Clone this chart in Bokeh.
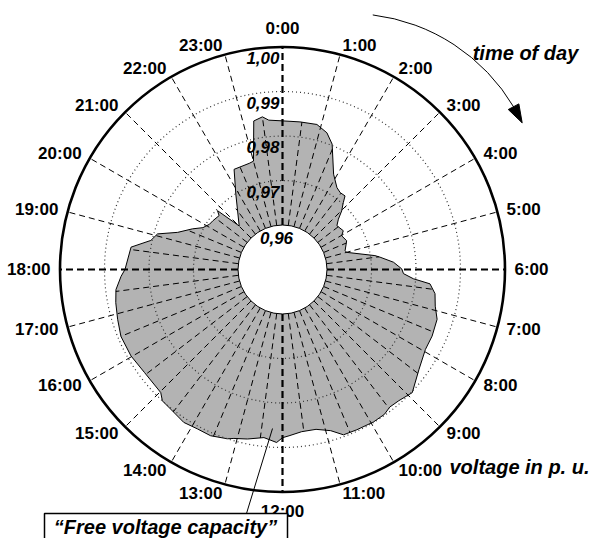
import numpy as np
from bokeh.plotting import figure
from bokeh.models import Range1d
from bokeh.core.properties import value
from bokeh.embed import file_html
from bokeh.resources import INLINE

# ---------------- data ----------------
hours = [0.0, 0.45, 0.89, 1.2, 1.44, 1.88, 2.24, 2.46, 2.69, 2.82, 3.02, 3.2, 3.41,
         3.83, 4.02, 4.39, 4.88, 5.0, 5.43, 5.52, 5.75, 5.98, 6.13, 6.27, 6.37,
         6.6, 6.9, 7.19, 7.6, 7.95, 8.41, 8.9, 9.23, 9.47, 9.66, 9.94, 10.34,
         10.65, 10.89, 11.21, 11.55, 11.85, 12.0, 12.13, 12.42, 12.78, 13.07,
         13.2, 13.56, 13.87, 14.19, 14.58, 14.83, 14.98, 15.55, 16.02, 16.5,
         16.88, 17.25, 17.54, 17.84, 18.0, 18.56, 18.83, 19.06, 19.3, 19.62,
         19.85, 20.12, 20.33, 20.69, 20.81, 21.01, 21.88, 22.28, 22.84, 23.0,
         23.27, 23.5, 23.65]
voltage = [0.9834, 0.9834, 0.9835, 0.9823, 0.9803, 0.9743, 0.9721, 0.9716, 0.9717,
           0.9703, 0.9687, 0.9669, 0.9657, 0.9662, 0.9653, 0.9658, 0.9647, 0.9649,
           0.9710, 0.9721, 0.9750, 0.9768, 0.9772, 0.9795, 0.9833, 0.9847, 0.9853,
           0.9865, 0.9868, 0.9868, 0.9880, 0.9902, 0.9894, 0.9892, 0.9898, 0.9899,
           0.9897, 0.9896, 0.9878, 0.9867, 0.9867, 0.9874, 0.9878, 0.9889, 0.9880,
           0.9889, 0.9895, 0.9900, 0.9907, 0.9906, 0.9909, 0.9902, 0.9900, 0.9889,
           0.9887, 0.9892, 0.9893, 0.9887, 0.9882, 0.9877, 0.9863, 0.9854, 0.9844,
           0.9803, 0.9792, 0.9750, 0.9722, 0.9702, 0.9693, 0.9691, 0.9687, 0.9697,
           0.9638, 0.9699, 0.9750, 0.9750, 0.9752, 0.9840, 0.9846, 0.9837]

ring_values = [0.96, 0.97, 0.98, 0.99, 1.00]
ring_labels = ["0,96", "0,97", "0,98", "0,99", "1,00"]
hour_ticks = list(range(24))
hour_labels = [f"{h}:00" for h in hour_ticks]
box_text = "\u201cFree voltage capacity\u201d"
arrow_text = "time of day"
axis_text = "voltage in p. u."

# ---------------- geometry ----------------
R0 = 0.95          # voltage at the pole of the polar axis
V_IN, V_OUT = 0.96, 1.00
PX = 4450.0        # pixels per p.u.
CX, CY = 282, 269  # pole position in the picture (px)
W, H = 592, 538


def dx(xp):
    return (xp - CX) / PX


def dy(yp):
    return (CY - yp) / PX


def polar(t, v):
    th = np.asarray(t, dtype=float) / 24.0 * 2 * np.pi
    r = np.asarray(v, dtype=float) - R0
    return r * np.sin(th), r * np.cos(th)


p = figure(width=W, height=H, output_backend="svg", toolbar_location=None,
           x_range=Range1d(dx(0), dx(W)), y_range=Range1d(dy(H), dy(0)),
           min_border=0)
p.axis.visible = False
p.grid.visible = False
p.outline_line_color = None
p.background_fill_color = "white"

FONT = value("Liberation Sans")

# shaded area
px_, py_ = polar(hours, voltage)
p.patch(list(px_), list(py_), fill_color="#b3b3b3", line_color="black", line_width=1)

# dotted rings
for v in ring_values[1:-1]:
    p.circle(x=0, y=0, radius=v - R0, fill_color=None, line_color="#333333",
             line_width=1.2, line_dash="1 3")

# half-hour lines inside the shaded area
half = np.arange(0.5, 24, 1.0)
vb = np.interp(half, hours + [24.0], voltage + [voltage[0]])
x0, y0 = polar(half, [V_IN] * len(half))
x1, y1 = polar(half, vb)
p.segment(x0, y0, x1, y1, line_color="black", line_width=1, line_dash="6 4")

# hour lines
minor = [h for h in hour_ticks if h % 6 != 0]
major = [h for h in hour_ticks if h % 6 == 0]
x0, y0 = polar(minor, [V_IN] * len(minor))
x1, y1 = polar(minor, [V_OUT] * len(minor))
p.segment(x0, y0, x1, y1, line_color="black", line_width=1, line_dash="6 4")

# inner circle and outer circle
p.circle(x=0, y=0, radius=V_IN - R0, fill_color="white", line_color="black", line_width=1)
p.circle(x=0, y=0, radius=V_OUT - R0, fill_color=None, line_color="black", line_width=2.6)

x0, y0 = polar(major, [V_IN] * len(major))
x1, y1 = polar(major, [V_OUT] * len(major))
p.segment(x0, y0, x1, y1, line_color="black", line_width=2.2, line_dash="7 4")

# hour labels
LR = R0 + 232 / PX
groups = {
    ("center", "bottom"): [0],
    ("center", "top"): [12],
    ("left", "middle"): list(range(1, 12)),
    ("right", "middle"): list(range(13, 24)),
}
for (al, bl), hs in groups.items():
    lx, ly = polar(hs, [LR] * len(hs))
    p.text(x=list(lx), y=list(ly), text=[hour_labels[h] for h in hs],
           text_font=FONT, text_font_style="bold", text_font_size="17px",
           text_align=al, text_baseline=bl, text_color="black")

# ring labels
p.text(x=[dx(279)] * 4, y=[v - R0 - 5 / PX for v in ring_values[1:]],
       text=ring_labels[1:], text_font=FONT, text_font_style="bold italic",
       text_font_size="17px", text_align="right", text_baseline="top")
p.text(x=[dx(276)], y=[ring_values[0] - R0 - 7 / PX], text=[ring_labels[0]],
       text_font=FONT, text_font_style="bold italic", text_font_size="17px",
       text_align="center", text_baseline="top")

# time-of-day arrow
acx, acy, ar = dx(349), dy(204), 191 / PX
p.arc(x=[acx], y=[acy], radius=ar, start_angle=np.radians(83.0),
      end_angle=np.radians(30.6), direction="clock", line_color="black", line_width=1)
tip = np.array([acx + ar * np.cos(np.radians(25.3)), acy + ar * np.sin(np.radians(25.3))])
base = np.array([acx + ar * np.cos(np.radians(30.8)), acy + ar * np.sin(np.radians(30.8))])
d = tip - base
d = d / np.hypot(*d)
n = np.array([-d[1], d[0]]) * (6 / PX)
p.patch([tip[0], base[0] + n[0], base[0] - n[0]], [tip[1], base[1] + n[1], base[1] - n[1]],
        fill_color="black", line_color="black")

p.text(x=[dx(525)], y=[dy(52)], text=[arrow_text], text_font=FONT,
       text_font_style="bold italic", text_font_size="20px",
       text_align="center", text_baseline="middle")
p.text(x=[dx(589)], y=[dy(466)], text=[axis_text], text_font=FONT,
       text_font_style="bold italic", text_font_size="20px",
       text_align="right", text_baseline="middle")

# callout box
p.segment(x0=[dx(246)], y0=[dy(513)], x1=[dx(272)], y1=[dy(428)],
          line_color="black", line_width=1)
p.quad(left=[dx(44)], right=[dx(287)], top=[dy(513)], bottom=[dy(560)],
       fill_color="white", line_color="black", line_width=1.5)
p.text(x=[dx(165)], y=[dy(526)], text=[box_text], text_font=FONT,
       text_font_style="bold italic", text_font_size="20px",
       text_align="center", text_baseline="middle")

open("out.html", "w").write(file_html(p, INLINE))
